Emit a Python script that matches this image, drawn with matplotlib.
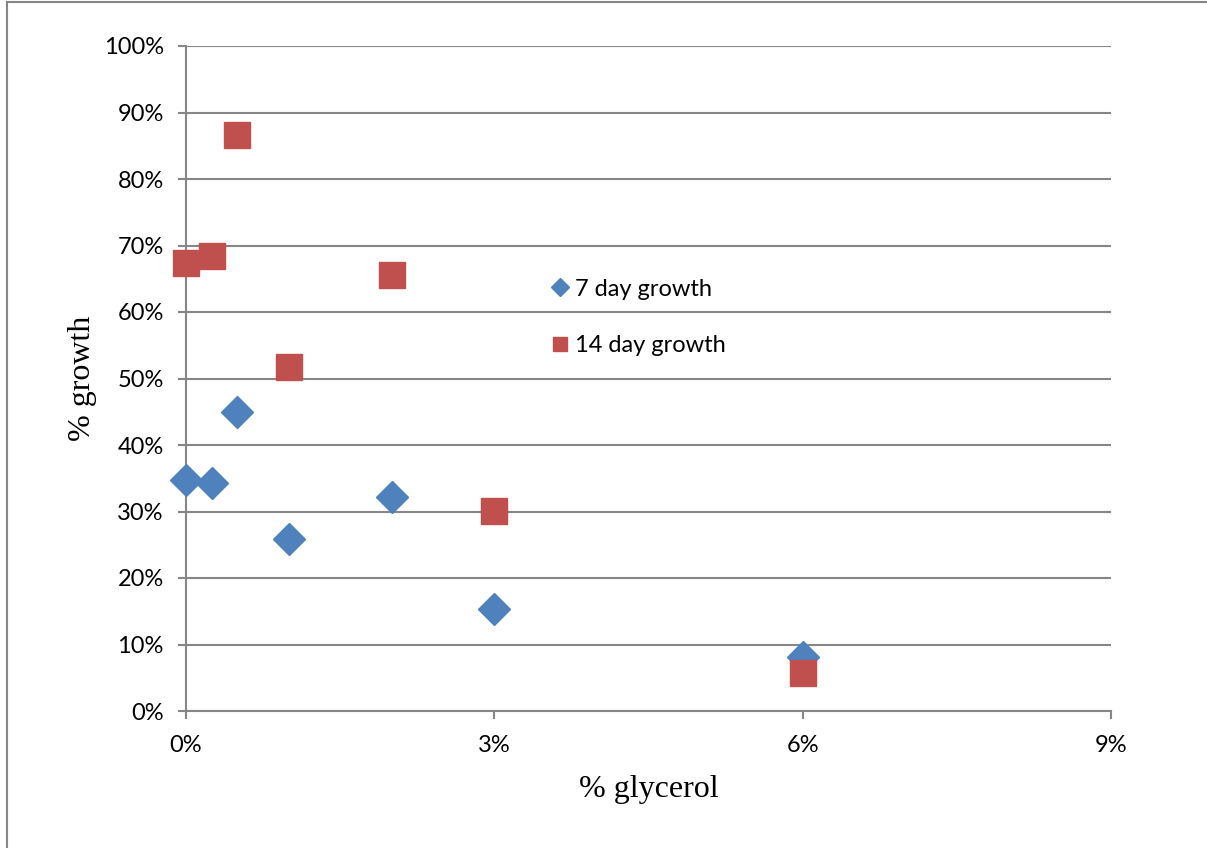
import matplotlib.pyplot as plt
from matplotlib.patches import Rectangle
from matplotlib.ticker import PercentFormatter

# datos (fracciones)
glicerol = [0.0, 0.0025, 0.005, 0.01, 0.02, 0.03, 0.06]
crecimiento_7 = [0.347, 0.343, 0.450, 0.259, 0.322, 0.153, 0.081]
crecimiento_14 = [0.674, 0.684, 0.866, 0.517, 0.656, 0.301, 0.057]

etiquetas = ["7 day growth", "14 day growth"]
ticks_x = [0.0, 0.03, 0.06, 0.09]
ticks_y = [i / 10 for i in range(11)]

azul = "#4f81bd"
rojo = "#c0504d"
gris = "#868686"

fig = plt.figure(figsize=(12.07, 8.48), dpi=100)
ax = fig.add_axes([186 / 1207, 1 - 711 / 848, 925 / 1207, 665 / 848])

# marco del grafico
fig.patches.append(Rectangle((7 / 1207, -0.1), 1.2, 1.1 - 2 / 848, transform=fig.transFigure,
                             fill=False, edgecolor=gris, linewidth=1.5))

ax.plot(glicerol, crecimiento_7, linestyle="none", marker="D", markersize=16.5,
        color=azul, label=etiquetas[0], zorder=3, clip_on=False)
ax.plot(glicerol, crecimiento_14, linestyle="none", marker="s", markersize=18.5,
        color=rojo, label=etiquetas[1], zorder=3, clip_on=False)

ax.set_xlim(0, 0.09)
ax.set_ylim(0, 1.0)
ax.set_xticks(ticks_x)
ax.set_yticks(ticks_y)
ax.xaxis.set_major_formatter(PercentFormatter(1.0, decimals=0))
ax.yaxis.set_major_formatter(PercentFormatter(1.0, decimals=0))

ax.grid(True, axis="y", color=gris, linewidth=1.5)
ax.set_axisbelow(True)
for lado in ["top", "right"]:
    ax.spines[lado].set_visible(False)
for lado in ["left", "bottom"]:
    ax.spines[lado].set_color(gris)
    ax.spines[lado].set_linewidth(1.5)

ax.tick_params(axis="both", color=gris, width=1.5, length=6, labelsize=17)
ax.tick_params(axis="y", pad=10)
ax.tick_params(axis="x", pad=11)
for t in ax.get_xticklabels() + ax.get_yticklabels():
    t.set_fontfamily("Lato")

ax.set_xlabel("% glycerol", fontsize=23, fontfamily="Liberation Serif", labelpad=14)
ax.set_ylabel("% growth", fontsize=23, fontfamily="Liberation Serif", labelpad=5)

leg = ax.legend(loc="center left", bbox_to_anchor=(0.384, 0.592), frameon=False,
                borderpad=0, markerscale=0.55, handlelength=0.6, handletextpad=0.34,
                labelspacing=1.5, prop={"family": "Lato", "size": 17})

fig.savefig("out.png", dpi=100)
